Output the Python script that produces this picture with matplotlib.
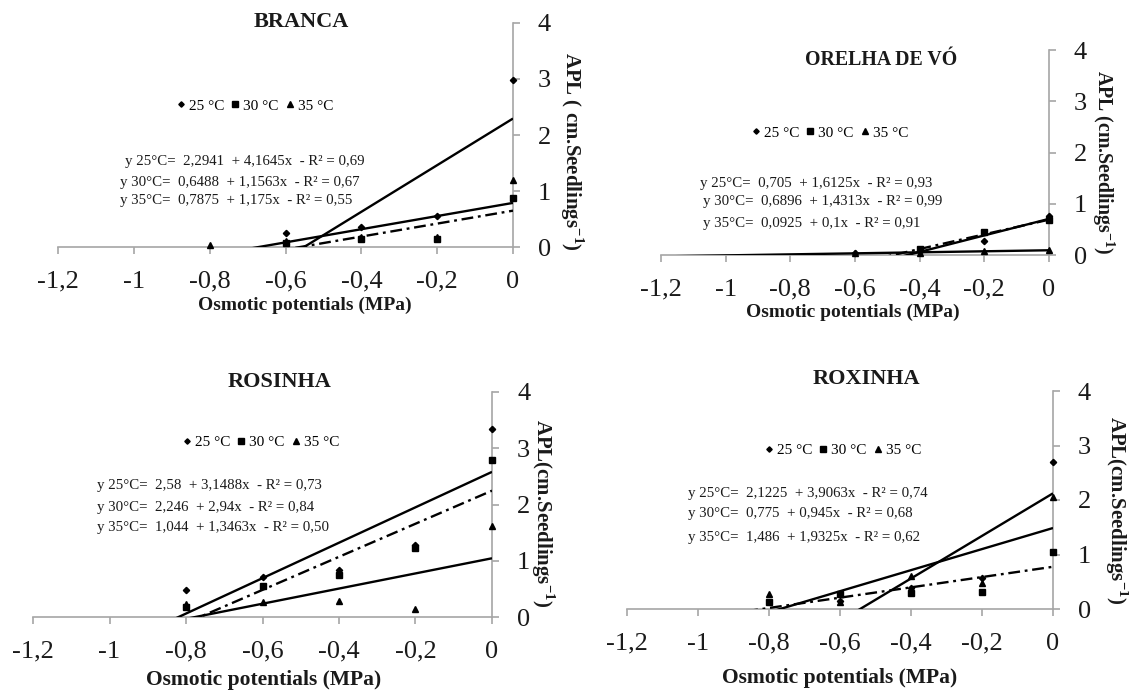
import numpy as np
import matplotlib.pyplot as plt

plt.rcParams['font.family'] = 'Liberation Serif'
plt.rcParams['mathtext.fontset'] = 'custom'
plt.rcParams['mathtext.rm'] = 'Liberation Serif'
plt.rcParams['mathtext.bf'] = 'Liberation Serif:bold'

# potenciais osmoticos (MPa) e temperaturas
potenciais = [-0.8, -0.6, -0.4, -0.2, 0.0]
temps = ['25 °C', '30 °C', '35 °C']
ticks_x = [-1.2, -1.0, -0.8, -0.6, -0.4, -0.2, 0.0]
rotulos_x = ['-1,2', '-1', '-0,8', '-0,6', '-0,4', '-0,2', '0']
ticks_y = [0, 1, 2, 3, 4]

# APL medio por cultivar (25, 30, 35 °C)
branca_25 = [np.nan, 0.25, 0.36, 0.55, 2.98]
branca_30 = [np.nan, 0.08, 0.15, 0.15, 0.87]
branca_35 = [0.03, 0.10, 0.18, 0.18, 1.20]
branca_a = [2.2941, 0.6488, 0.7875]
branca_b = [4.1645, 1.1563, 1.175]
branca_r2 = [0.69, 0.67, 0.55]

orelha_25 = [np.nan, 0.03, 0.07, 0.27, 0.76]
orelha_30 = [np.nan, np.nan, 0.12, 0.45, 0.68]
orelha_35 = [np.nan, 0.03, 0.04, 0.07, 0.10]
orelha_a = [0.705, 0.6896, 0.0925]
orelha_b = [1.6125, 1.4313, 0.1]
orelha_r2 = [0.93, 0.99, 0.91]

rosinha_25 = [0.48, 0.71, 0.83, 1.28, 3.35]
rosinha_30 = [0.18, 0.56, 0.74, 1.22, 2.79]
rosinha_35 = [0.24, 0.27, 0.29, 0.15, 1.62]
rosinha_a = [2.58, 2.246, 1.044]
rosinha_b = [3.1488, 2.94, 1.3463]
rosinha_r2 = [0.73, 0.84, 0.50]

roxinha_25 = [np.nan, 0.15, 0.38, 0.56, 2.69]
roxinha_30 = [0.12, 0.28, 0.29, 0.32, 1.05]
roxinha_35 = [0.28, 0.13, 0.60, 0.47, 2.06]
roxinha_a = [2.1225, 0.775, 1.486]
roxinha_b = [3.9063, 0.945, 1.9325]
roxinha_r2 = [0.74, 0.68, 0.62]

W, H = 1129, 692
cinza = '#a6a6a6'


def fx(px):
    return px / W


def fy(py):
    return 1 - py / H


def virgula(v, casas=None):
    if casas is None:
        s = repr(v)
    else:
        s = '{:.{}f}'.format(v, casas)
    return s.replace('.', ',')


# layout de cada grafico em pixels
paineis = [
    dict(nome='BRANCA', dados=[branca_25, branca_30, branca_35],
         a=branca_a, b=branca_b, r2=branca_r2,
         caixa=(58, 23, 513, 247), titulo=(301, 22, 16),
         leg=(255, 106), eq_x=[125, 120, 120], eq_y=[162, 182, 201],
         xlab=(305, 305, 14),
         ylab=(572, 151, 15, 'APL ( cm.Seedlings$^{\\mathbf{-1}}$)')),
    dict(nome='ORELHA DE VÓ', dados=[orelha_25, orelha_30, orelha_35],
         a=orelha_a, b=orelha_b, r2=orelha_r2,
         caixa=(661, 50, 1049, 255), titulo=(881, 60, 14.3),
         leg=(830, 133), eq_x=[700, 703, 703], eq_y=[183, 202, 223],
         xlab=(853, 312, 14),
         ylab=(1103, 162, 14.3, 'APL (cm.Seedlings$^{\\mathbf{-1}}$)')),
    dict(nome='ROSINHA', dados=[rosinha_25, rosinha_30, rosinha_35],
         a=rosinha_a, b=rosinha_b, r2=rosinha_r2,
         caixa=(33, 392, 492, 617), titulo=(280, 382, 16),
         leg=(261, 442), eq_x=[97, 97, 97], eq_y=[485, 508, 528],
         xlab=(264, 680, 15.5),
         ylab=(543, 513, 15, 'APL(cm.Seedlings$^{\\mathbf{-1}}$)')),
    dict(nome='ROXINHA', dados=[roxinha_25, roxinha_30, roxinha_35],
         a=roxinha_a, b=roxinha_b, r2=roxinha_r2,
         caixa=(627, 391, 1053, 609), titulo=(866, 379, 16),
         leg=(843, 450), eq_x=[688, 688, 688], eq_y=[493, 513, 537],
         xlab=(840, 678, 15.5),
         ylab=(1117, 510, 15, 'APL(cm.Seedlings$^{\\mathbf{-1}}$)')),
]

marcadores = [('D', 3.2), ('s', 4.6), ('^', 5.0)]
estilos = ['-', (0, (5, 2, 1.2, 2)), '-']

fig = plt.figure(figsize=(W / 100, H / 100), dpi=100)

for p in paineis:
    x0, y0, x1, y1 = p['caixa']
    ax = fig.add_axes([fx(x0), fy(y1), (x1 - x0) / W, (y1 - y0) / H])
    ax.patch.set_alpha(0)
    ax.set_xlim(-1.2, 0)
    ax.set_ylim(0, 4)
    for lado in ['left', 'top']:
        ax.spines[lado].set_visible(False)
    for lado in ['right', 'bottom']:
        ax.spines[lado].set_color(cinza)
        ax.spines[lado].set_linewidth(1.2)
    ax.yaxis.tick_right()
    ax.set_xticks(ticks_x, rotulos_x)
    ax.set_yticks(ticks_y)
    ax.tick_params(axis='x', direction='out', length=5, width=1.2, color=cinza,
                   labelsize=19, pad=12, labelcolor='#1a1a1a')
    ax.tick_params(axis='y', direction='out', length=5, width=1.2, color=cinza,
                   labelsize=19, pad=13, labelcolor='#1a1a1a')

    # retas de regressao
    xs = np.array([-1.2, 0.0])
    for a, b, ls in zip(p['a'], p['b'], estilos):
        ax.plot(xs, a + b * xs, color='black', lw=1.7, linestyle=ls,
                solid_capstyle='butt', zorder=3)

    handles = []
    for vals, (m, ms) in zip(p['dados'], marcadores):
        h, = ax.plot(potenciais, vals, linestyle='none', marker=m, ms=ms,
                     color='black', clip_on=False, zorder=5)
        handles.append(h)

    ax.legend(handles, temps, ncol=3, loc='center',
              bbox_to_anchor=(fx(p['leg'][0]), fy(p['leg'][1])),
              bbox_transform=fig.transFigure, frameon=False, fontsize=11,
              handlelength=0.5, handletextpad=0.25, columnspacing=0.5,
              borderpad=0, markerscale=0.85)

    for t, a, b, r2, ex, ey in zip(temps, p['a'], p['b'], p['r2'],
                                   p['eq_x'], p['eq_y']):
        texto = 'y {}°C=  {}  + {}x  - R² = {}'.format(
            t[:2], virgula(a), virgula(b), virgula(r2, 2))
        fig.text(fx(ex), fy(ey), texto, ha='left', va='center', fontsize=10.7,
                 color='#1a1a1a')

    tx, ty, ts = p['titulo']
    fig.text(fx(tx), fy(ty), p['nome'], ha='center', va='center',
             fontsize=ts, fontweight='bold', color='#1a1a1a')
    lx, ly, ls_ = p['xlab']
    fig.text(fx(lx), fy(ly), 'Osmotic potentials (MPa)', ha='center',
             va='center', fontsize=ls_, fontweight='bold', color='#1a1a1a')
    yx, yy, ysz, ytxt = p['ylab']
    fig.text(fx(yx), fy(yy), ytxt, ha='center', va='center', rotation=270,
             fontsize=ysz, fontweight='bold', color='#1a1a1a')

fig.savefig('out.png', dpi=100)
